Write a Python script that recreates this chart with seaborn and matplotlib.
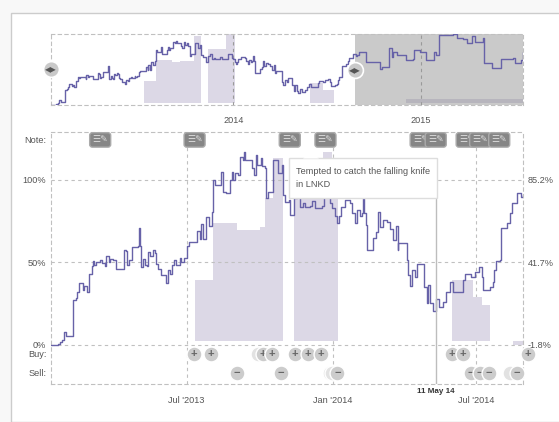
import pandas as pd
import matplotlib.pyplot as plt
import seaborn as sns
from matplotlib.patches import Rectangle, Polygon

W, H = 559, 422
START = pd.Timestamp('2013-01-11')

# portfolio line, days since start and percent
line_days = [0, 9, 11, 14, 16, 19, 26, 28, 31, 33, 35, 38, 40, 42, 45, 48, 52, 53, 54, 57, 62, 64, 68, 69, 73, 74,
             78, 82, 89, 92, 94, 96, 98, 102, 110, 111, 112, 113, 116, 118, 121, 122, 125, 129, 131, 132, 135, 139,
             145, 147, 150, 152, 155, 158, 163, 164, 168, 171, 174, 178, 181, 184, 188, 189, 192, 195, 199, 203, 204,
             207, 213, 214, 217, 221, 226, 228, 230, 232, 236, 238, 242, 243, 245, 252, 253, 256, 258, 260, 265, 266,
             270, 271, 273, 277, 280, 285, 286, 289, 291, 292, 295, 300, 301, 305, 306, 310, 314, 318, 320, 326, 329,
             333, 341, 344, 352, 354, 358, 360, 363, 365, 370, 377, 380, 383, 386, 389, 392, 393, 395, 397, 398, 403,
             406, 410, 412, 415, 418, 423, 427, 431, 435, 437, 438, 445, 449, 450, 452, 455, 459, 462, 469, 470, 474,
             475, 478, 481, 485, 489, 494, 498, 503, 507, 515, 519, 522, 530, 534, 540, 543, 545, 553, 557, 559, 561,
             566, 567, 575, 578, 581, 587, 588, 593, 595]
line_pct = [0, 0.6, 1.5, 2.7, 7.8, 5, 5, 27, 28, 32, 37.5, 37.5, 33, 35.5, 32, 43, 47.6, 50.6, 48, 50, 51, 49.5, 47.5,
            53.8, 50, 52, 51.5, 46, 46, 57, 56.5, 48, 51, 59, 59.5, 70.8, 60, 47, 52, 48, 47.5, 56, 53.5, 57, 55.5, 49,
            46, 42, 37.5, 45, 42.5, 48, 51, 48, 52.5, 50, 52.5, 60, 62, 62, 62, 69, 64, 73, 64, 77, 72, 80.5, 100,
            96.6, 96.6, 104.7, 92.6, 92, 100, 104.7, 100, 104, 102.7, 113.8, 112, 116.8, 112, 112, 107, 102.7, 114.8,
            108.8, 113, 108, 107, 88.8, 92.6, 92.6, 112, 112, 104, 104, 109, 90.6, 86.5, 87.5, 78.5, 78.5, 88.8, 92,
            83.5, 86, 83.5, 84, 87, 83, 84, 92, 86, 82.7, 78, 73.6, 78, 83.5, 87.6, 85.8, 80, 73.6, 81.5, 78, 79.7,
            88.8, 80, 72.4, 57.3, 57.3, 64.5, 68, 80.5, 71.4, 75.5, 74.5, 70, 63.3, 72, 57.3, 61.5, 61.5, 51, 42, 35.5,
            45, 41, 49, 49, 35, 25, 36, 25, 20.5, 27.5, 23, 26, 32, 38, 32, 32, 39, 43, 41, 44, 47, 41, 33, 35, 38, 45,
            50.6, 51, 70.6, 73.6, 79.7, 85.8, 85.8, 91.8, 89.4, 90.6]

# rest of the series, only seen in the overview
extra_days = [600, 613, 620, 640, 645, 658, 663, 665, 673, 692, 705, 707, 718, 730, 745, 750, 755, 783, 790, 802, 809,
              819, 825, 841, 843, 858, 874, 877, 900, 903, 916, 919]
extra_pct = [96.7, 78.4, 78.4, 64.5, 69.2, 103, 87.5, 96.7, 90, 81.5, 83.3, 99.8, 96.7, 81.5, 96.7, 90.7, 127.3, 128.6,
             122.3, 119.4, 112.6, 125.5, 115, 121.2, 76.6, 66.3, 66.3, 82.8, 84.6, 75.5, 81.5, 96.7]

# invested share, step edges
area_days = [181, 204, 234, 263, 270, 280, 292, 306, 343, 354, 362, 505, 532, 543, 553]
area_top = [39, 73.8, 69.4, 71.4, 88.8, 113, 113, 90.6, 116.7, 90.6, 90.6, 39, 29, 24, 24]
blocks = [(0, 7), (7, 11), (11, 15)]
short_days = [582, 595]
area_base = 2.1

mini_area_days = [181, 204, 236, 251, 278, 292, 306, 341, 358, 504, 530, 551]
mini_area_top = [43, 81.5, 78, 79.7, 125, 125, 101.6, 131, 131, 40, 26.6, 26.6]
mini_blocks = [(0, 6), (6, 9), (9, 12)]
mini_band_days = [691, 919]
mini_band_top = 10
mini_base = 2.7

note_days = [62, 181, 301, 346, 466, 485, 524, 541, 565]
buy_days = [180, 202, 261, 267, 278, 307, 324, 340, 505, 519, 601]
sell_days = [234, 290, 352, 354, 361, 529, 541, 552, 578, 587]
handle_days = [0, 592]
date_ticks = ['2013-07-01', '2014-01-01', '2014-07-01']
date_labels = ["Jul '2013", "Jan '2014", "Jul '2014"]
mini_ticks = ['2014-01-01', '2015-01-01']
mini_labels = ['2014', '2015']
cursor_date = '2014-05-11'
y_ticks = [124, 100, 50, 0, -5.5, -17]
y_labels = ['Note:', '100%', '50%', '0%', 'Buy:', 'Sell:']
right_ticks = [85.2, 41.7, -1.8]
right_labels = ['85.2%', '41.7%', '-1.8%']


def to_date(days):
    return START + pd.to_timedelta(days, unit='D')


def fx(x):
    return x / W


def fy(y):
    return 1 - y / H


sns.set_theme(style='white')
plt.rcParams['font.family'] = ['Liberation Sans', 'DejaVu Sans']

LINE = '#6762a8'
FILL = '#dcd8e6'
GRID = '#c0c0c0'
TEXT = '#555555'
DASH = (0, (3, 3))
FS = 6.6

df = pd.DataFrame({'date': to_date(pd.Series(line_days)), 'pct': line_pct})
df_all = pd.concat([df, pd.DataFrame({'date': to_date(pd.Series(extra_days)), 'pct': extra_pct})], ignore_index=True)

fig = plt.figure(figsize=(W / 100, H / 100), dpi=100, facecolor='#f8f8f8')
fig.patches.append(Rectangle((fx(10.5), 0), 1, fy(12.5), transform=fig.transFigure, facecolor='white',
                             edgecolor='#cccccc', lw=1, zorder=-1))

# overview strip
mini = fig.add_axes([fx(51), fy(104.5), fx(472), 71 / H], facecolor='none')
for a, b in mini_blocks:
    mini.fill_between(to_date(pd.Series(mini_area_days[a:b])), mini_base, mini_area_top[a:b], step='post',
                      color=FILL, lw=0, zorder=1)
mini.fill_between(to_date(pd.Series(mini_band_days)), mini_base, mini_band_top, color=FILL, lw=0, zorder=1)
mini.axvspan(to_date(592), to_date(919), color='#8f8f8f', alpha=0.47, lw=0, zorder=2)
sns.lineplot(data=df_all, x='date', y='pct', color=LINE, lw=1.0, drawstyle='steps-post', estimator=None,
             errorbar=None, ax=mini, zorder=3)
mini.set_xlim(to_date(0), to_date(919))
mini.set_ylim(0, 130)
mini.set_yticks([])
mini.set_xticks(pd.to_datetime(mini_ticks), mini_labels, fontsize=FS, color=TEXT)
mini.tick_params(axis='x', length=0, pad=8.5)
mini.grid(axis='x', color='#9a9a9a', ls=DASH, lw=0.8)
mini.set_axisbelow(False)
mini.set(xlabel='', ylabel='')
for s in mini.spines.values():
    s.set(linestyle=DASH, color=GRID, lw=0.8)
handles = pd.DataFrame({'date': to_date(pd.Series(handle_days)), 'y': [65, 63]})
sns.scatterplot(data=handles, x='date', y='y', s=130, color='#c9c9c9', edgecolor='white', lw=1.2, clip_on=False,
                ax=mini, zorder=5, legend=False)
mini.set(xlabel='', ylabel='')
for d, y in zip(handle_days, handles['y']):
    mini.text(to_date(d), y, '◂▸', ha='center', va='center', fontsize=8.5, color='#555555', zorder=6,
              family='DejaVu Sans')

# main panel
ax = fig.add_axes([fx(51), fy(384), fx(472), 252 / H], facecolor='none')
for a, b in blocks:
    ax.fill_between(to_date(pd.Series(area_days[a:b])), area_base, area_top[a:b], step='post', color=FILL, lw=0,
                    zorder=1)
ax.fill_between(to_date(pd.Series(short_days)), 0, area_base, color=FILL, lw=0, zorder=1)
sns.lineplot(data=df, x='date', y='pct', color=LINE, lw=1.0, drawstyle='steps-post', estimator=None, errorbar=None,
             ax=ax, zorder=3)
ax.set_xlim(to_date(0), to_date(595))
ax.set_ylim(-23.9, 128.8)
ax.set_xticks(pd.to_datetime(date_ticks), date_labels, fontsize=FS, color=TEXT)
ax.tick_params(axis='x', length=0, pad=8.5)
ax.set_yticks(y_ticks, y_labels, fontsize=FS, color=TEXT)
ax.tick_params(axis='y', length=0, pad=3.5)
ax.set(xlabel='', ylabel='')
ax.grid(axis='x', color=GRID, ls=DASH, lw=0.8)
for v in [100, 50, 0]:
    ax.axhline(v, color=GRID, ls=DASH, lw=0.8, zorder=2)
ax.set_axisbelow(True)
for s in ax.spines.values():
    s.set(linestyle=DASH, color=GRID, lw=0.8)

right = ax.twinx()
right.set_ylim(-1.8 + 0.87 * -23.9, -1.8 + 0.87 * 128.8)
right.set_yticks(right_ticks, right_labels, fontsize=FS, color=TEXT)
right.tick_params(axis='y', length=0, pad=3.5)
right.grid(False)
for s in right.spines.values():
    s.set_visible(False)

# cursor
ax.plot([pd.Timestamp(cursor_date)] * 2, [-23.9, 88], color='#bdbdbd', lw=1, zorder=4)
ax.text(pd.Timestamp(cursor_date), -28.5, '11 May 14', ha='center', va='center', fontsize=5.8, color='#333333',
        fontweight='bold', clip_on=False)

# buy and sell markers, later ones sit on top of earlier ones
for days, y, sign in [(buy_days, -5.5, '+'), (sell_days, -17, '−')]:
    for i, d in enumerate(days):
        covered = i + 1 < len(days) and days[i + 1] - d < 10
        mark = pd.DataFrame({'date': [to_date(d)], 'y': [y]})
        sns.scatterplot(data=mark, x='date', y='y', s=115, color='#e2e2e2' if covered else '#cccccc',
                        edgecolor='white', lw=1, clip_on=False, ax=ax, zorder=5 + i * 0.02, legend=False)
        if not covered:
            ax.text(to_date(d), y, sign, ha='center', va='center', fontsize=8, fontweight='bold', color='#666666',
                    zorder=5.01 + i * 0.02, clip_on=False)
ax.set(xlabel='', ylabel='')

# note icons
for i, d in enumerate(note_days):
    ax.text(to_date(d), 124, '☰✎', ha='center', va='center', fontsize=6.5, color='#dddddd', zorder=5 + i * 0.02,
            family='DejaVu Sans',
            bbox=dict(boxstyle='round,pad=0.3', facecolor='#868686', edgecolor='#aaaaaa', lw=1))

# tooltip
fig.patches.append(Rectangle((fx(289), fy(198)), fx(148), 40 / H, transform=fig.transFigure, facecolor='white',
                             edgecolor='#dddddd', lw=1, zorder=7))
fig.patches.append(Polygon([(fx(303), fy(158.5)), (fx(311), fy(152)), (fx(319), fy(158.5))],
                           transform=fig.transFigure, facecolor='white', edgecolor='none', zorder=8))
fig.text(fx(296), fy(172), 'Tempted to catch the falling knife', fontsize=6.6, color=TEXT, va='center', zorder=9)
fig.text(fx(296), fy(185), 'in LNKD', fontsize=6.6, color=TEXT, va='center', zorder=9)

fig.savefig('out.png', dpi=100, facecolor=fig.get_facecolor())
